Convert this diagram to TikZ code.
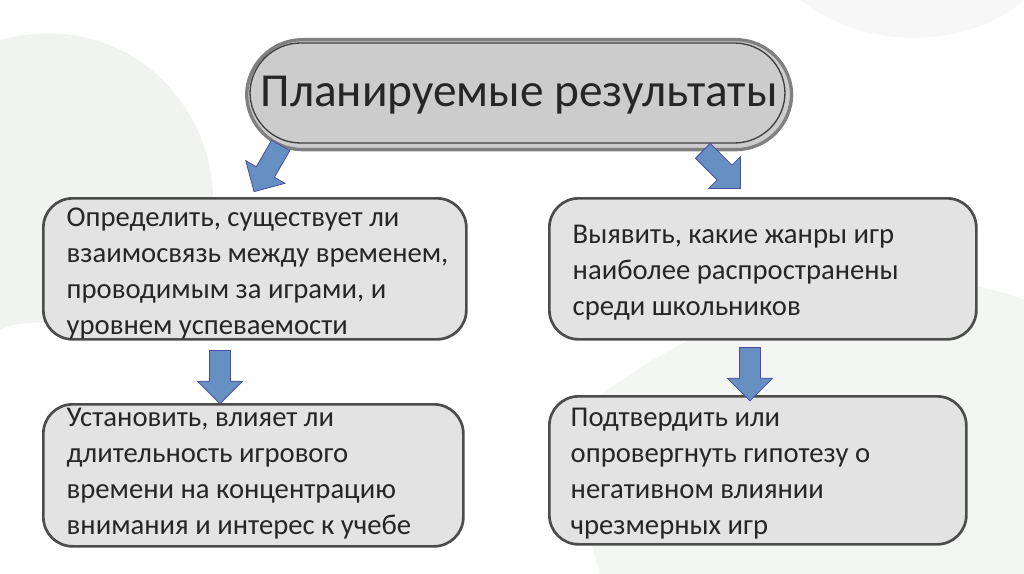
\documentclass[tikz,border=0pt]{standalone}
\usepackage{fontspec}
\setmainfont{Carlito}
\usetikzlibrary{shapes.arrows}
\begin{document}
\begin{tikzpicture}[x=0.75pt,y=-0.75pt,
 box/.style={draw=black!70,line width=2pt,fill=gray!22,rounded corners=22pt,anchor=north west,inner sep=0pt},
 txt/.style={anchor=north west,align=left,font=\fontsize{21.5}{27}\selectfont,text=black!85},
 barrow/.style={single arrow,draw=blue!50!black!70,fill=blue!55!cyan!60!black!60,line width=0.6pt,minimum height=40pt,minimum width=34pt,single arrow head extend=5pt,single arrow tip angle=90,inner sep=4pt}]
\useasboundingbox (0,0) rectangle (1024,574);
\fill[white] (0,0) rectangle (1024,574);
\fill[green!10!gray!12,opacity=0.8] (0,40) .. controls (150,0) and (250,150) .. (200,260) .. controls (150,380) and (60,300) .. (0,330) -- cycle;
\fill[green!10!gray!10,opacity=0.8] (560,430) .. controls (700,300) and (900,250) .. (1024,300) -- (1024,574) -- (600,574) -- cycle;
\fill[green!10!gray!8,opacity=0.8] (800,0) .. controls (880,60) and (980,40) .. (1024,0) -- cycle;
\node[draw=gray,line width=2.5pt,fill=gray!40,rounded corners=42pt,minimum width=545pt*0.75,minimum height=110pt*0.75,anchor=north west] (top) at (245,38) {};
\draw[black!75,line width=1pt,rounded corners=38pt] (250,43) rectangle (785,143);
\node[font=\fontsize{35.5}{40}\selectfont,text=black!85] (ttl) at (top.center) {Планируемые результаты};
\node[box,minimum width=423pt*0.75,minimum height=141pt*0.75] (b1) at (42,197) {};
\node[txt] (t1) at (62,203) {Определить, существует ли\\взаимосвязь между временем,\\проводимым за играми, и\\уровнем успеваемости};
\node[box,minimum width=427pt*0.75,minimum height=141pt*0.75] (b2) at (548,197) {};
\node[txt] (t2) at (568,220) {Выявить, какие жанры игр\\наиболее распространены\\среди школьников};
\node[box,minimum width=420pt*0.75,minimum height=142pt*0.75] (b3) at (42,403) {};
\node[txt] (t3) at (62,403) {Установить, влияет ли\\длительность игрового\\времени на концентрацию\\внимания и интерес к учебе};
\node[box,minimum width=417pt*0.75,minimum height=148pt*0.75] (b4) at (548,395) {};
\node[txt] (t4) at (566,403) {Подтвердить или\\опровергнуть гипотезу о\\негативном влиянии\\чрезмерных игр};
\node[barrow,rotate=-120] (a1) at (270,164) {};
\node[barrow,rotate=-45] (a2) at (718,166) {};
\node[barrow,rotate=-90] (a3) at (220,372) {};
\node[barrow,rotate=-90] (a4) at (750,369) {};
\end{tikzpicture}
\end{document}
